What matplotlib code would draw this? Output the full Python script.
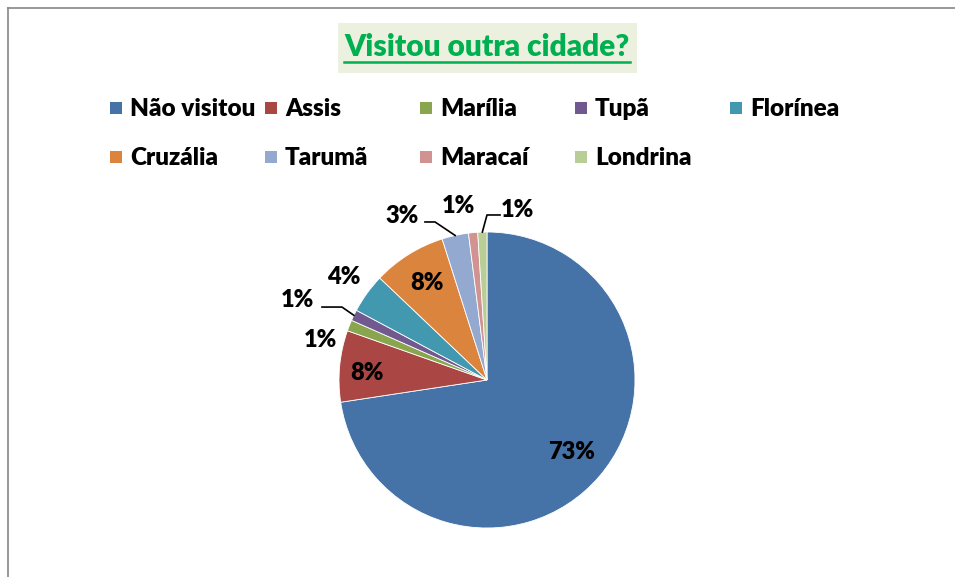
import numpy as np
import matplotlib
matplotlib.use("Agg")
import matplotlib.pyplot as plt
from matplotlib.patches import Rectangle
from matplotlib.lines import Line2D

# data (percent of answers)
cities = ["Não visitou", "Assis", "Marília", "Tupã", "Florínea",
          "Cruzália", "Tarumã", "Maracaí", "Londrina"]
shares = [72.6, 7.8, 1.2, 1.2, 4.3, 8.0, 2.9, 1.0, 1.0]
colors = ["#4572A7", "#AA4643", "#89A54E", "#71588F", "#4198AF",
          "#DB843D", "#93A9CF", "#D19392", "#B9CD96"]
title = "Visitou outra cidade?"

# label layout (radius factor, angle shift in degrees)
lab_r = [0.75, 0.81, 1.16, 1.39, 1.19, 0.77, 1.25, 1.19, 1.17]
lab_dang = [0, -2, -8, -3, 0, 0, -15, -4, 12]
# leader lines: index -> (elbow angle, elbow radius, horizontal length)
leaders = {3: (296.7, 1.097, -0.135), 6: (341.8, 1.124, -0.068), 8: (0.0, 1.115, 0.088)}

W, H = 955, 577
fig = plt.figure(figsize=(W / 100, H / 100), dpi=100)
fig.patch.set_facecolor("white")
font = "Lato"

# outer chart frame
fig.add_artist(Line2D([8 / W, 8 / W], [0, 1 - 8 / H], color="#868686", lw=1.2))
fig.add_artist(Line2D([8 / W, 1], [1 - 8 / H, 1 - 8 / H], color="#868686", lw=1.2))

# title with light box and underline
fig.add_artist(Rectangle((338 / W, 1 - 73 / H), 299 / W, 50 / H,
                         facecolor="#EBF1DE", edgecolor="none"))
t = fig.text(487 / W, 1 - 47 / H, title, ha="center", va="center",
             fontsize=21.5, fontweight="heavy", color="#00B050", family=font)
fig.canvas.draw()
bb = t.get_window_extent()
fig.add_artist(Line2D([bb.x0 / W, bb.x1 / W], [(bb.y0 - 1) / H, (bb.y0 - 1) / H],
                      color="#00B050", lw=1.8))

# legend, two rows of five columns
for i, (name, c) in enumerate(zip(cities, colors)):
    col, row = i % 5, i // 5
    x = 110 + col * 155
    y = 108 + row * 49
    fig.add_artist(Rectangle((x / W, 1 - (y + 6) / H), 12 / W, 12 / H,
                             facecolor=c, edgecolor="none"))
    fig.text((x + 20) / W, 1 - (y + 1) / H, name, ha="left", va="center",
             fontsize=17.5, fontweight="heavy", family=font)

# pie
R = 148
cx, cy = 487, H - 380
lim = 1.5
ax = fig.add_axes([(cx - lim * R) / W, (cy - lim * R) / H, 2 * lim * R / W, 2 * lim * R / H])
ax.pie(shares, colors=colors, startangle=90, counterclock=False, radius=1,
       wedgeprops=dict(edgecolor="white", linewidth=0.6))
ax.set_xlim(-lim, lim)
ax.set_ylim(-lim, lim)
ax.set_aspect("equal")
ax.axis("off")

total = sum(shares)
start = 0.0
for i, v in enumerate(shares):
    span = 360 * v / total
    mid = start + span / 2
    start += span
    a = np.radians(mid + lab_dang[i])
    tx, ty = lab_r[i] * np.sin(a), lab_r[i] * np.cos(a)
    ax.text(tx, ty, "%.0f%%" % (100 * v / total), ha="center", va="center",
            fontsize=17, fontweight="heavy", family=font, clip_on=False)
    if i in leaders:
        ea, er, hl = leaders[i]
        m = np.radians(mid)
        e = np.radians(ea)
        ex, ey = er * np.sin(e), er * np.cos(e)
        ax.plot([np.sin(m), ex, ex + hl], [np.cos(m), ey, ey], color="black", lw=1.2,
                clip_on=False)

fig.savefig("out.png", dpi=100)
